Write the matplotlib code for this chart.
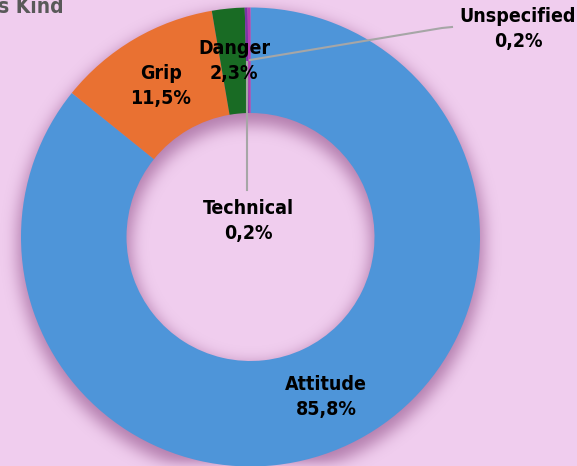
import numpy as np
import matplotlib
matplotlib.use('Agg')
import matplotlib.pyplot as plt

categories = ['Attitude', 'Grip', 'Danger', 'Technical', 'Unspecified']
shares = [85.8, 11.5, 2.3, 0.2, 0.2]
colors = ['#4E95D9', '#E97132', '#196B24', '#7B35A6', '#B83DB5']
title = 's Kind'

W, H = 577, 466
BG = '#F0CDEE'

plt.rcParams['font.family'] = ['DejaVu Sans']

fig = plt.figure(figsize=(W / 100, H / 100), dpi=100, facecolor=BG)
ax = fig.add_axes([0, 0, 1, 1])
ax.set_facecolor(BG)

cx, cy = 250.5, H - 237
r_out, r_in = 229.5, 124

# soft drop shadow: blurred ring shifted a little downwards
yy, xx = np.mgrid[0:H, 0:W]
d = np.hypot(xx - cx, (H - yy) - (cy - 7))
mask = ((d < r_out + 4) & (d > r_in - 4)).astype(float)
kern = np.ones(13) / 13
for _ in range(4):
    mask = np.apply_along_axis(lambda v: np.convolve(v, kern, mode='same'), 1, mask)
    mask = np.apply_along_axis(lambda v: np.convolve(v, kern, mode='same'), 0, mask)
shadow = np.zeros((H, W, 4))
shadow[..., :3] = matplotlib.colors.to_rgb('#9A5C92')
shadow[..., 3] = mask * 0.7
ax.imshow(shadow, extent=(0, W, 0, H), origin='upper', zorder=0)

ax.pie(shares, colors=colors, startangle=90, counterclock=False,
       center=(cx, cy), radius=r_out,
       wedgeprops=dict(width=r_out - r_in, linewidth=0), frame=True)
ax.set_xlim(0, W)
ax.set_ylim(0, H)
ax.set_aspect('equal')
ax.axis('off')

# data labels, placed like the original (pixel positions from the top)
label_pos = {
    'Attitude': (326, 397),
    'Grip': (161, 86),
    'Danger': (234, 61),
    'Technical': (248, 221),
    'Unspecified': (518, 29),
}
for name, val in zip(categories, shares):
    x, y = label_pos[name]
    txt = f'{name}\n{val:.1f}%'.replace('.', ',')
    ax.text(x, H - y, txt, ha='center', va='center', fontsize=14,
            fontweight='bold', fontstretch='condensed', color='black',
            linespacing=1.45, zorder=5)

# leader lines
ax.plot([247, 247], [H - 62, H - 190], color='#A6A6A6', lw=1.5, zorder=4)
ax.plot([250, 442, 452], [H - 60, H - 28, H - 27], color='#A6A6A6', lw=1.5, zorder=4)

ax.text(-2, H - 13, title, ha='left', va='baseline', fontsize=15,
        fontweight='bold', fontstretch='condensed', color='#595959')

fig.savefig('out.png', dpi=100, facecolor=BG)
